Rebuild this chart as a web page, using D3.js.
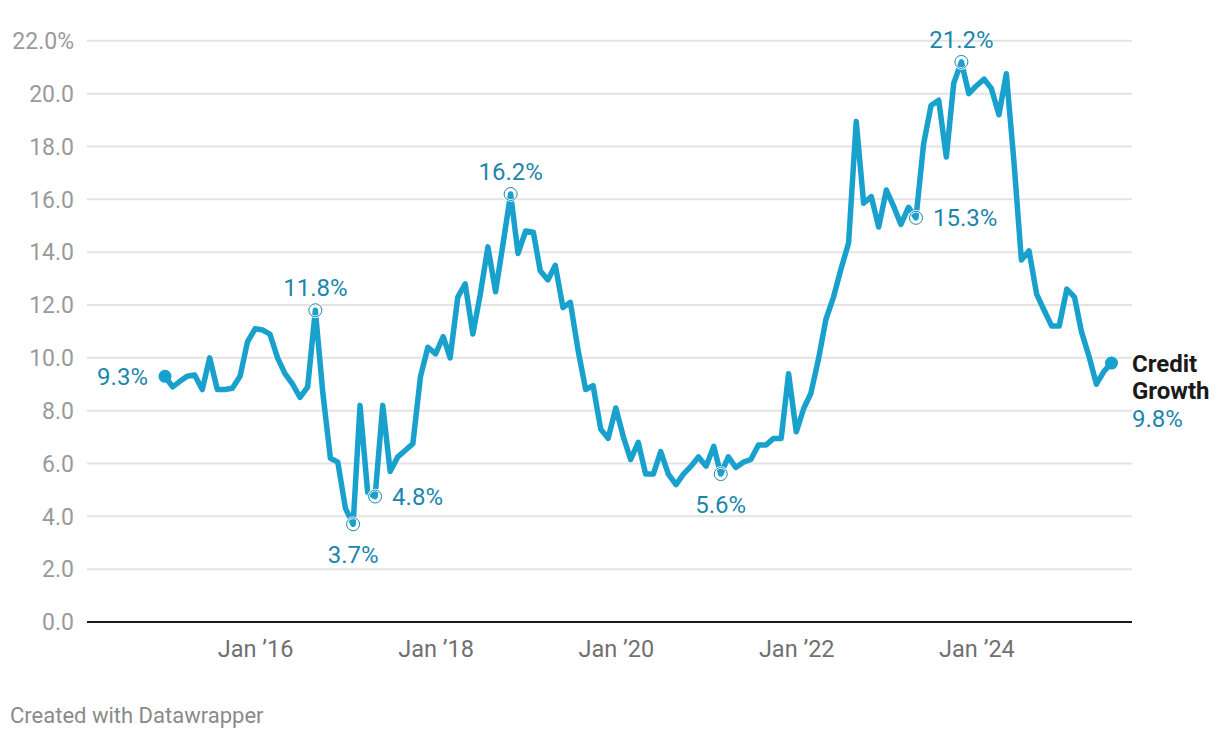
<!DOCTYPE html>
<html>
<head>
<meta charset="utf-8">
<script src="https://cdn.jsdelivr.net/npm/d3@7"></script>
<style>
  html, body { margin: 0; padding: 0; background: #fff; }
  svg { display: block; font-family: Roboto, "Noto Sans", sans-serif; }
</style>
</head>
<body>
<svg id="chart" width="1220" height="738"></svg>
<script>
// Monthly credit growth (%), Jan 2015 .. Jul 2025
const startYear = 2015;
const creditGrowth = [
  9.3, 8.9, 9.1, 9.3, 9.35, 8.8, 10.0, 8.8, 8.8, 8.85, 9.3, 10.6,
  11.1, 11.05, 10.9, 10.0, 9.4, 9.0, 8.5, 8.9, 11.8, 8.7, 6.2, 6.05,
  4.3, 3.7, 8.2, 4.9, 4.75, 8.2, 5.7, 6.25, 6.5, 6.75, 9.3, 10.4,
  10.15, 10.8, 10.0, 12.3, 12.8, 10.9, 12.4, 14.2, 12.5, 14.3, 16.2, 13.95,
  14.8, 14.75, 13.3, 12.95, 13.5, 11.9, 12.1, 10.3, 8.8, 8.95, 7.3, 6.95,
  8.1, 7.0, 6.15, 6.8, 5.6, 5.6, 6.45, 5.6, 5.2, 5.6, 5.9, 6.25,
  5.9, 6.65, 5.6, 6.25, 5.85, 6.05, 6.15, 6.7, 6.7, 6.95, 6.95, 9.4,
  7.2, 8.1, 8.65, 9.95, 11.45, 12.3, 13.35, 14.35, 18.95, 15.85, 16.1, 14.95,
  16.35, 15.7, 15.05, 15.7, 15.3, 18.1, 19.55, 19.75, 17.6, 20.4, 21.2, 20.0,
  20.3, 20.55, 20.2, 19.2, 20.75, 17.4, 13.7, 14.05, 12.4, 11.8, 11.2, 11.2,
  12.6, 12.3, 11.0, 10.05, 9.0, 9.5, 9.8
];
const yTicks = [0, 2, 4, 6, 8, 10, 12, 14, 16, 18, 20, 22];
const xTickYears = [2016, 2018, 2020, 2022, 2024];
// annotated points: month index, label, placement
const annotations = [
  { i: 0,   text: "9.3%",  pos: "left"  },
  { i: 20,  text: "11.8%", pos: "above" },
  { i: 25,  text: "3.7%",  pos: "below" },
  { i: 28,  text: "4.8%",  pos: "right" },
  { i: 46,  text: "16.2%", pos: "above" },
  { i: 74,  text: "5.6%",  pos: "below" },
  { i: 100, text: "15.3%", pos: "right" },
  { i: 106, text: "21.2%", pos: "above" }
];
const seriesName = ["Credit", "Growth"];

const data = creditGrowth.map((v, i) => ({ date: new Date(startYear, i, 1), value: v }));

const svg = d3.select("#chart");
const lineColor = "#18a1cd";
const labelColor = "#1b86ad";

const x = d3.scaleTime()
  .domain([data[0].date, data[data.length - 1].date])
  .range([165, 1111.5]);
const y = d3.scaleLinear().domain([0, 22]).range([622, 40.8]);

const gridLeft = 87, gridRight = 1132;

// gridlines
svg.append("g").selectAll("line").data(yTicks.filter(d => d !== 0)).join("line")
  .attr("x1", gridLeft).attr("x2", gridRight)
  .attr("y1", d => y(d)).attr("y2", d => y(d))
  .attr("stroke", "#e3e3e3").attr("stroke-width", 2);

// y tick labels
svg.append("g").selectAll("text").data(yTicks).join("text")
  .attr("x", 74).attr("y", d => y(d))
  .attr("dy", "0.36em")
  .attr("text-anchor", "end")
  .attr("fill", "#9a9a9a")
  .attr("font-size", 23)
  .text(d => d === 22 ? d.toFixed(1) + "%" : d.toFixed(1));

// baseline
svg.append("line")
  .attr("x1", gridLeft).attr("x2", gridRight)
  .attr("y1", y(0)).attr("y2", y(0))
  .attr("stroke", "#1a1a1a").attr("stroke-width", 2);

// x axis labels
const xAxis = d3.axisBottom(x)
  .tickValues(xTickYears.map(yr => new Date(yr, 0, 1)))
  .tickSize(0)
  .tickPadding(0)
  .tickFormat(d => "Jan \u2019" + String(d.getFullYear()).slice(2));
const gx = svg.append("g").attr("transform", `translate(0, ${y(0)})`).call(xAxis);
gx.select(".domain").remove();
gx.selectAll("text")
  .attr("y", 27).attr("dy", "0.36em")
  .attr("fill", "#707070")
  .attr("font-size", 23.5)
  .attr("font-family", "Roboto, sans-serif");

// line
const line = d3.line().x(d => x(d.date)).y(d => y(d.value));
svg.append("path").datum(data)
  .attr("d", line)
  .attr("fill", "none")
  .attr("stroke", lineColor)
  .attr("stroke-width", 5.5)
  .attr("stroke-linejoin", "round")
  .attr("stroke-linecap", "round");

// start and end dots
[data[0], data[data.length - 1]].forEach(d => {
  svg.append("circle")
    .attr("cx", x(d.date)).attr("cy", y(d.value)).attr("r", 6.5)
    .attr("fill", lineColor);
});

// annotation circles and labels
annotations.forEach(a => {
  const d = data[a.i];
  const cx = x(d.date), cy = y(d.value);
  if (a.i !== 0) {
    svg.append("circle").attr("cx", cx).attr("cy", cy).attr("r", 6.5)
      .attr("fill", "none").attr("stroke", "#fff").attr("stroke-width", 2.5);
    svg.append("circle").attr("cx", cx).attr("cy", cy).attr("r", 6.5)
      .attr("fill", "none").attr("stroke", labelColor).attr("stroke-width", 1);
  }
  let tx = cx, ty = cy, anchor = "middle";
  if (a.pos === "above") { ty = cy - 23; }
  if (a.pos === "below") { ty = cy + 30; }
  if (a.pos === "right") { tx = cx + 17; anchor = "start"; }
  if (a.pos === "left")  { tx = cx - 17; anchor = "end"; }
  svg.append("text")
    .attr("x", tx).attr("y", ty).attr("dy", "0.36em")
    .attr("text-anchor", anchor)
    .attr("fill", labelColor)
    .attr("font-size", 24)
    .text(a.text);
});

// series label at line end
const last = data[data.length - 1];
const lx = 1132, ly = y(last.value);
svg.append("text").attr("x", lx).attr("y", ly).attr("dy", "0.36em")
  .attr("font-size", 24).attr("font-weight", 700).attr("fill", "#1a1a1a")
  .text(seriesName[0]);
svg.append("text").attr("x", lx).attr("y", ly + 27).attr("dy", "0.36em")
  .attr("font-size", 24).attr("font-weight", 700).attr("fill", "#1a1a1a")
  .text(seriesName[1]);
svg.append("text").attr("x", lx).attr("y", ly + 55).attr("dy", "0.36em")
  .attr("font-size", 24).attr("fill", labelColor)
  .text(last.value.toFixed(1) + "%");

// footer
svg.append("text").attr("x", 10).attr("y", 715).attr("dy", "0.36em")
  .attr("font-size", 22).attr("fill", "#8a8a8a")
  .text("Created with Datawrapper");
</script>
</body>
</html>
